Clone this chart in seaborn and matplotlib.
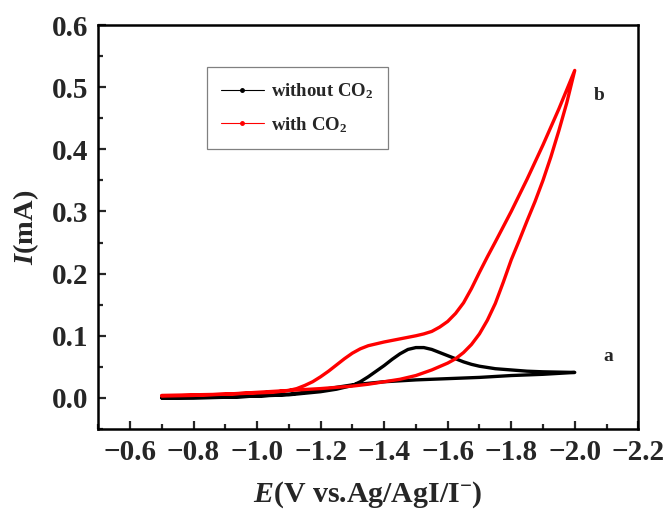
import matplotlib
matplotlib.use("Agg")
import matplotlib.pyplot as plt
import seaborn as sns
import pandas as pd
from matplotlib.lines import Line2D
from matplotlib.ticker import MultipleLocator

# --- data ---
# without CO2 (curve a): forward (cathodic) scan with reduction peak, then return scan
e_a_fwd = [-0.70, -0.80, -0.90, -1.00, -1.10, -1.20, -1.25, -1.30, -1.325, -1.35, -1.375,
           -1.40, -1.425, -1.45, -1.475, -1.50, -1.525, -1.55, -1.575, -1.60, -1.625,
           -1.65, -1.675, -1.70, -1.75, -1.80, -1.85, -1.90, -1.95, -2.00]
i_a_fwd = [0.000, 0.0005, 0.001, 0.003, 0.005, 0.010, 0.014, 0.020, 0.026, 0.034, 0.043,
           0.052, 0.062, 0.071, 0.078, 0.081, 0.081, 0.078, 0.073, 0.068, 0.063,
           0.058, 0.054, 0.051, 0.047, 0.045, 0.043, 0.042, 0.0415, 0.041]
e_a_rev = [-2.00, -1.90, -1.80, -1.70, -1.60, -1.50, -1.40, -1.30, -1.25, -1.20, -1.15,
           -1.10, -1.00, -0.90, -0.80, -0.70]
i_a_rev = [0.041, 0.038, 0.036, 0.033, 0.031, 0.029, 0.026, 0.021, 0.017, 0.013, 0.009,
           0.006, 0.003, 0.001, 0.000, 0.000]

# with CO2 (curve b)
e_b_fwd = [-0.70, -0.80, -0.90, -1.00, -1.05, -1.10, -1.125, -1.15, -1.175, -1.20, -1.225,
           -1.25, -1.275, -1.30, -1.325, -1.35, -1.375, -1.40, -1.45, -1.50, -1.525,
           -1.55, -1.575, -1.60, -1.625, -1.65, -1.675, -1.70, -1.725, -1.75, -1.80,
           -1.85, -1.90, -1.95, -2.00]
i_b_fwd = [0.004, 0.005, 0.006, 0.008, 0.009, 0.012, 0.015, 0.020, 0.026, 0.034, 0.043,
           0.053, 0.063, 0.072, 0.079, 0.084, 0.087, 0.090, 0.095, 0.100, 0.103,
           0.107, 0.114, 0.123, 0.136, 0.153, 0.176, 0.202, 0.227, 0.251, 0.300,
           0.352, 0.407, 0.465, 0.527]
e_b_rev = [-2.00, -1.975, -1.95, -1.925, -1.90, -1.875, -1.85, -1.825, -1.80, -1.775,
           -1.75, -1.725, -1.70, -1.675, -1.65, -1.625, -1.60, -1.55, -1.50, -1.45,
           -1.40, -1.35, -1.30, -1.20, -1.10, -1.00, -0.90, -0.80, -0.70]
i_b_rev = [0.527, 0.475, 0.430, 0.388, 0.350, 0.316, 0.285, 0.253, 0.222, 0.186,
           0.152, 0.125, 0.103, 0.086, 0.073, 0.063, 0.056, 0.045, 0.036, 0.030,
           0.026, 0.022, 0.019, 0.015, 0.012, 0.009, 0.006, 0.004, 0.003]

series_names = ["without CO$_2$", "with CO$_2$"]
series_colors = ["black", "red"]
curve_labels = ["a", "b"]

e_a = e_a_fwd + e_a_rev
i_a = i_a_fwd + i_a_rev
e_b = e_b_fwd + e_b_rev
i_b = i_b_fwd + i_b_rev

df = pd.concat([
    pd.DataFrame({"E": e_a, "I": i_a, "s": series_names[0], "k": range(len(e_a))}),
    pd.DataFrame({"E": e_b, "I": i_b, "s": series_names[1], "k": range(len(e_b))}),
], ignore_index=True)

sns.set_style("ticks")
plt.rcParams["font.family"] = ["Liberation Serif", "DejaVu Serif"]
plt.rcParams["font.weight"] = "bold"
plt.rcParams["mathtext.fontset"] = "custom"
plt.rcParams["mathtext.rm"] = "Liberation Serif:bold"
plt.rcParams["mathtext.it"] = "Liberation Serif:bold:italic"
plt.rcParams["mathtext.bf"] = "Liberation Serif:bold"

fig = plt.figure(figsize=(6.68, 5.11), dpi=100)
ax = fig.add_axes([0.147, 0.1605, 0.8085, 0.7905])

sns.lineplot(data=df, x="E", y="I", hue="s", sort=False, estimator=None,
             palette=dict(zip(series_names, series_colors)), linewidth=2.4,
             legend=False, ax=ax)

ax.set_xlim(-0.5, -2.2)
ax.set_ylim(-0.05, 0.6)
ax.xaxis.set_major_locator(MultipleLocator(0.2))
ax.xaxis.set_minor_locator(MultipleLocator(0.1))
ax.yaxis.set_major_locator(MultipleLocator(0.1))
ax.yaxis.set_minor_locator(MultipleLocator(0.05))
ax.tick_params(which="both", direction="in", top=False, right=False, width=1.6)
ax.tick_params(which="major", length=6, labelsize=21, pad=7)
ax.tick_params(which="minor", length=3.5)
for lab in ax.get_xticklabels() + ax.get_yticklabels():
    lab.set_fontweight("bold")
for sp in ax.spines.values():
    sp.set_linewidth(1.8)
    sp.set_color("black")

ax.set_xlabel(r"$E$(V vs.Ag/AgI/I$^{-}$)", fontsize=21.5, fontweight="bold", labelpad=10)
ax.set_ylabel(r"$I$(mA)", fontsize=20.5, fontweight="bold", labelpad=8)

ax.text(-2.104, 0.066, curve_labels[0], fontsize=14, fontweight="bold", ha="center", va="center")
ax.text(-2.076, 0.487, curve_labels[1], fontsize=14, fontweight="bold", ha="center", va="center")

handles = [Line2D([], [], color=c, lw=0.8, marker="o", markersize=2.5) for c in series_colors]
leg = ax.legend(handles, series_names, loc="upper left", bbox_to_anchor=(0.201, 0.896),
                borderaxespad=0, fancybox=False, framealpha=1, edgecolor="#808080",
                prop={"family": "Liberation Serif", "weight": "bold", "size": 13.5},
                handlelength=2.3, labelspacing=0.75, borderpad=0.75, handletextpad=0.4)
leg.get_frame().set_linewidth(0.9)

fig.savefig("out.png", dpi=100)
